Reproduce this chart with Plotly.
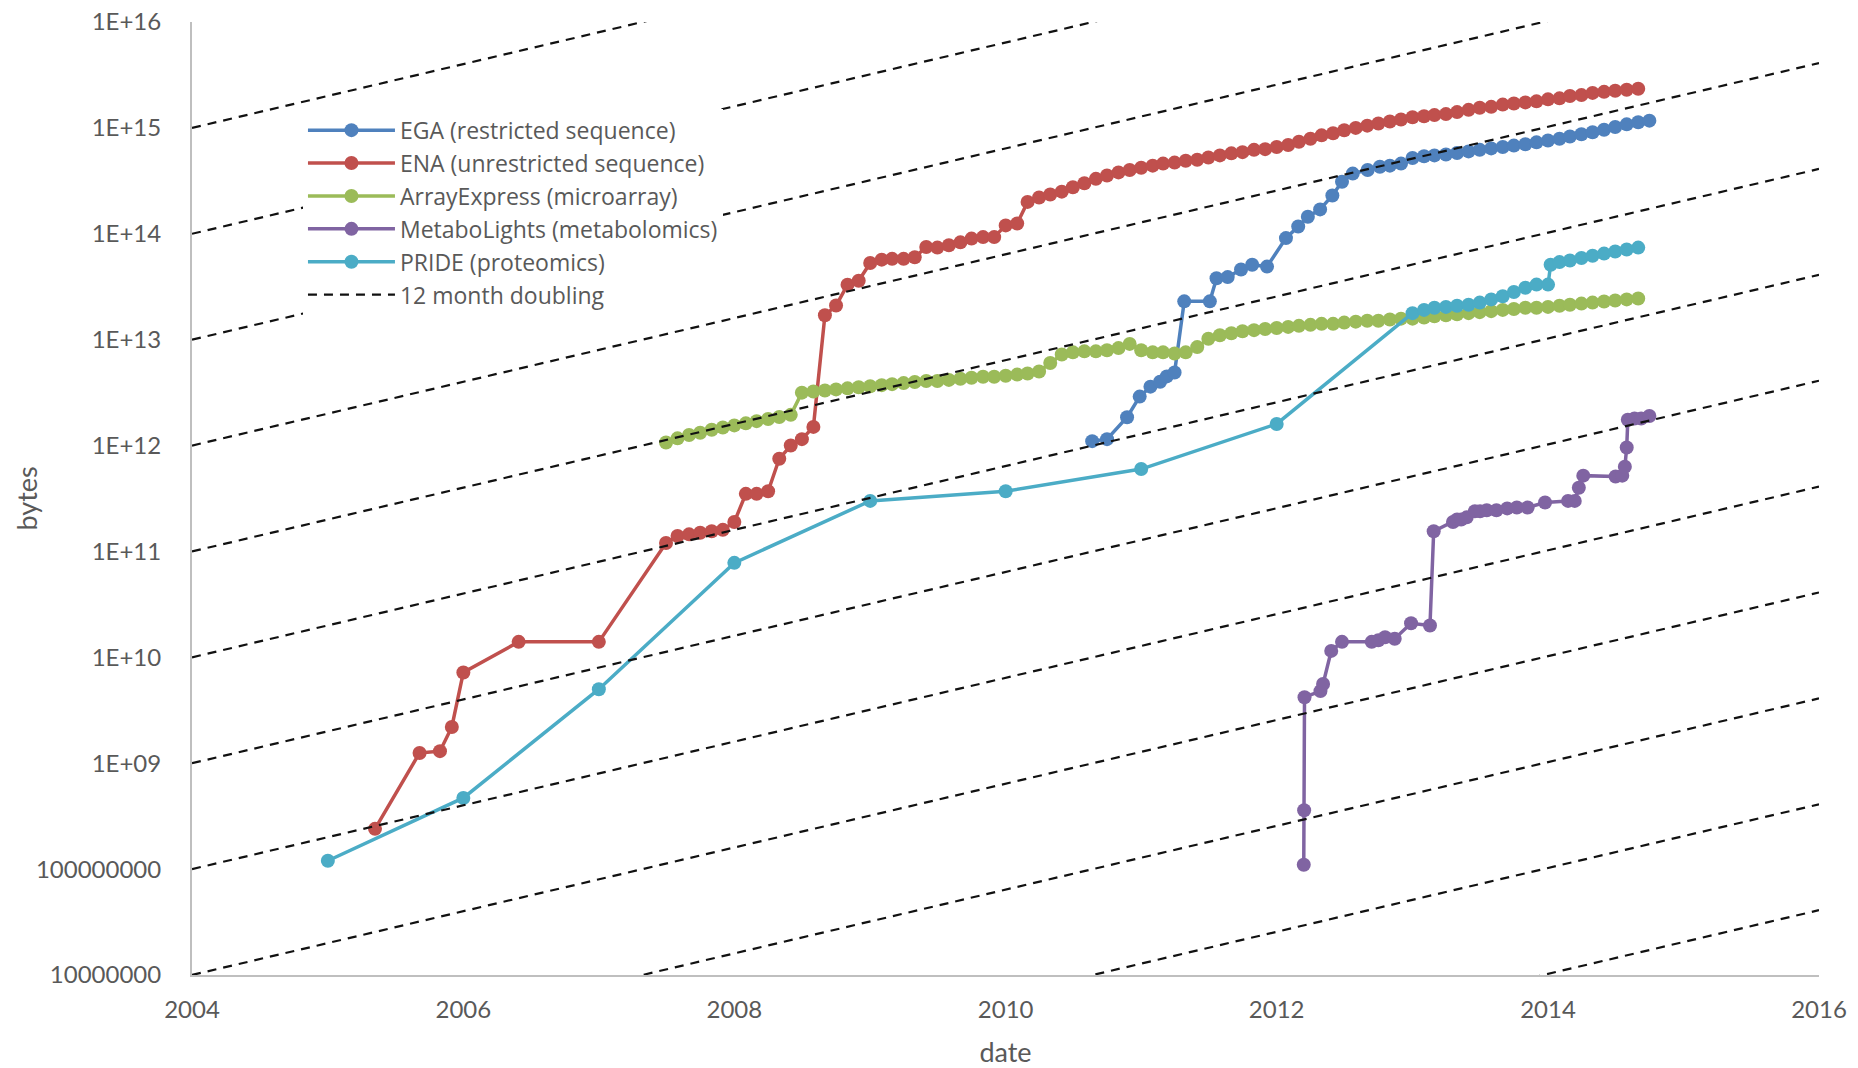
import pandas as pd
import plotly.graph_objects as go

# ---------------- data (bytes) ----------------
ega_dates_irregular = ["2010-08-22", "2010-10-01", "2010-11-24", "2010-12-28", "2011-01-26", "2011-02-21",
                       "2011-03-11", "2011-04-01", "2011-04-27", "2011-07-05", "2011-07-23", "2011-08-22",
                       "2011-09-27", "2011-10-27", "2011-12-06", "2012-01-26", "2012-02-28", "2012-03-25",
                       "2012-04-27", "2012-05-30", "2012-06-25", "2012-07-24", "2012-09-02", "2012-10-05"]
ega_values_irregular = [1.1e12, 1.15e12, 1.85e12, 2.9e12, 3.6e12, 4.0e12, 4.5e12, 4.9e12, 2.3e13, 2.3e13,
                        3.8e13, 3.9e13, 4.6e13, 5.1e13, 4.9e13, 9.1e13, 1.17e14, 1.45e14, 1.7e14, 2.3e14,
                        3.1e14, 3.7e14, 4.0e14, 4.3e14]
ega_monthly_start = "2012-11-01"
ega_values_monthly = [4.4e14, 4.6e14,
                      5.2e14, 5.4e14, 5.5e14, 5.6e14, 5.8e14, 6.0e14, 6.2e14, 6.4e14, 6.6e14, 6.8e14, 7.0e14, 7.3e14,
                      7.6e14, 7.9e14, 8.3e14, 8.7e14, 9.1e14, 9.6e14, 1.02e15, 1.08e15, 1.13e15, 1.17e15]

ena_dates_early = ["2005-05-08", "2005-09-05", "2005-10-30", "2005-12-01", "2006-01-01", "2006-05-30", "2007-01-01"]
ena_values_early = [2.4e8, 1.25e9, 1.3e9, 2.2e9, 7.2e9, 1.4e10, 1.4e10]
ena_monthly_start = "2007-07-01"
ena_values_monthly = [1.2e11, 1.4e11, 1.45e11, 1.5e11, 1.55e11, 1.6e11,
                      1.9e11, 3.5e11, 3.5e11, 3.7e11, 7.5e11, 1.0e12, 1.15e12, 1.5e12, 1.7e13, 2.1e13, 3.3e13, 3.6e13,
                      5.3e13, 5.7e13, 5.8e13, 5.8e13, 6.0e13, 7.5e13, 7.4e13, 7.8e13, 8.3e13, 9.0e13, 9.3e13, 9.3e13,
                      1.2e14, 1.25e14, 2.0e14, 2.2e14, 2.35e14, 2.5e14, 2.75e14, 3.0e14, 3.3e14, 3.55e14, 3.8e14, 4.0e14,
                      4.2e14, 4.4e14, 4.6e14, 4.7e14, 4.9e14, 5.0e14, 5.25e14, 5.5e14, 5.75e14, 5.9e14, 6.2e14, 6.3e14,
                      6.6e14, 6.9e14, 7.4e14, 7.9e14, 8.5e14, 8.9e14, 9.5e14, 1.0e15, 1.05e15, 1.1e15, 1.15e15, 1.2e15,
                      1.26e15, 1.29e15, 1.32e15, 1.35e15, 1.41e15, 1.48e15, 1.55e15, 1.58e15, 1.66e15, 1.70e15, 1.74e15, 1.78e15,
                      1.86e15, 1.9e15, 2.0e15, 2.04e15, 2.14e15, 2.19e15, 2.24e15, 2.29e15, 2.34e15]

ae_monthly_start = "2007-07-01"
ae_values_monthly = [1.07e12, 1.17e12, 1.26e12, 1.32e12, 1.41e12, 1.48e12,
                     1.55e12, 1.62e12, 1.70e12, 1.78e12, 1.86e12, 1.95e12, 3.16e12, 3.24e12, 3.31e12, 3.39e12, 3.47e12, 3.55e12,
                     3.63e12, 3.72e12, 3.80e12, 3.89e12, 3.98e12, 4.07e12, 4.07e12, 4.17e12, 4.27e12, 4.37e12, 4.47e12, 4.47e12,
                     4.57e12, 4.68e12, 4.79e12, 5.01e12, 6.03e12, 7.24e12, 7.59e12, 7.76e12, 7.76e12, 7.94e12, 8.32e12, 9.12e12,
                     7.94e12, 7.59e12, 7.59e12, 7.41e12, 7.59e12, 8.51e12, 1.02e13, 1.10e13, 1.15e13, 1.20e13, 1.23e13, 1.26e13,
                     1.29e13, 1.32e13, 1.35e13, 1.38e13, 1.41e13, 1.41e13, 1.45e13, 1.48e13, 1.51e13, 1.51e13, 1.55e13, 1.58e13,
                     1.58e13, 1.62e13, 1.66e13, 1.70e13, 1.74e13, 1.78e13, 1.82e13, 1.86e13, 1.91e13, 1.95e13, 2.0e13, 2.0e13,
                     2.04e13, 2.09e13, 2.14e13, 2.19e13, 2.24e13, 2.29e13, 2.34e13, 2.40e13, 2.45e13]

ml_dates = ["2012-03-14", "2012-03-15", "2012-03-16", "2012-04-28", "2012-05-05", "2012-05-27", "2012-06-25",
            "2012-09-13", "2012-10-01", "2012-10-19", "2012-11-14", "2012-12-28", "2013-02-17", "2013-02-27",
            "2013-04-20", "2013-05-01", "2013-05-12", "2013-05-27", "2013-06-18", "2013-07-02", "2013-07-20",
            "2013-08-15", "2013-09-13", "2013-10-09", "2013-11-07", "2013-12-24", "2014-02-24", "2014-03-14",
            "2014-03-25", "2014-04-06", "2014-07-02", "2014-07-20", "2014-07-27", "2014-08-01", "2014-08-04",
            "2014-08-22", "2014-09-09", "2014-10-01"]
ml_values = [1.1e8, 3.6e8, 4.2e9, 4.8e9, 5.6e9, 1.15e10, 1.4e10, 1.4e10, 1.45e10, 1.55e10, 1.5e10, 2.1e10,
             2.0e10, 1.55e11, 1.9e11, 2.0e11, 2.0e11, 2.1e11, 2.4e11, 2.4e11, 2.45e11, 2.45e11, 2.55e11, 2.6e11,
             2.6e11, 2.9e11, 3.0e11, 3.0e11, 4.0e11, 5.2e11, 5.1e11, 5.2e11, 6.3e11, 9.6e11, 1.75e12, 1.8e12,
             1.8e12, 1.9e12]

pride_dates_annual = ["2005-01-01", "2006-01-01", "2007-01-01", "2008-01-01", "2009-01-01", "2010-01-01",
                      "2011-01-01", "2012-01-01"]
pride_values_annual = [1.2e8, 4.7e8, 5.0e9, 7.8e10, 3.0e11, 3.7e11, 6.0e11, 1.6e12]
pride_monthly_start = "2013-01-01"
pride_values_monthly = [1.78e13, 1.91e13, 2.0e13, 2.04e13, 2.09e13, 2.14e13, 2.24e13, 2.40e13, 2.57e13,
                        2.82e13, 3.09e13, 3.31e13, 3.31e13]
pride_dates_late = ["2014-01-08", "2014-02-01", "2014-03-01", "2014-04-01", "2014-05-01", "2014-06-01",
                    "2014-07-01", "2014-08-01", "2014-09-01"]
pride_values_late = [5.1e13, 5.4e13, 5.6e13, 5.9e13, 6.2e13, 6.5e13, 6.8e13, 7.1e13, 7.4e13]

# 12 month doubling reference lines: start values at 2004 (10^k bytes)
doubling_start_exponents = [4, 5, 6, 7, 8, 9, 10, 11, 12, 13, 14, 15]
doubling_period_years = 1
doubling_from, doubling_to = "2004-01-01", "2016-01-01"

y_tick_values = [1e7, 1e8, 1e9, 1e10, 1e11, 1e12, 1e13, 1e14, 1e15, 1e16]
y_tick_labels = ["10000000", "100000000", "1E+09", "1E+10", "1E+11", "1E+12", "1E+13", "1E+14", "1E+15", "1E+16"]
x_tick_years = [2004, 2006, 2008, 2010, 2012, 2014, 2016]


def monthly(start, n):
    return [d.strftime("%Y-%m-%d") for d in pd.date_range(start, periods=n, freq="MS")]


series = [
    ("EGA (restricted sequence)", "#4F81BD",
     ega_dates_irregular + monthly(ega_monthly_start, len(ega_values_monthly)),
     ega_values_irregular + ega_values_monthly),
    ("ENA (unrestricted sequence)", "#C0504D",
     ena_dates_early + monthly(ena_monthly_start, len(ena_values_monthly)),
     ena_values_early + ena_values_monthly),
    ("ArrayExpress (microarray)", "#9BBB59",
     monthly(ae_monthly_start, len(ae_values_monthly)), ae_values_monthly),
    ("MetaboLights (metabolomics)", "#8064A2", ml_dates, ml_values),
    ("PRIDE (proteomics)", "#4BACC6",
     pride_dates_annual + monthly(pride_monthly_start, len(pride_values_monthly)) + pride_dates_late,
     pride_values_annual + pride_values_monthly + pride_values_late),
]

FONT = "Lato, 'Open Sans', sans-serif"
LEGEND_FONT = "'Open Sans', Lato, sans-serif"
TXT = "#595959"

fig = go.Figure()
for name, color, xs, ys in series:
    fig.add_trace(go.Scatter(x=xs, y=ys, name=name, mode="lines+markers",
                             line=dict(color=color, width=3.5),
                             marker=dict(color=color, size=14, symbol="circle")))

years_span = 12
factor = 2 ** (years_span / doubling_period_years)
dx, dy = [], []
for k in doubling_start_exponents:
    dx += [doubling_from, doubling_to, None]
    dy += [10.0 ** k, 10.0 ** k * factor, None]
fig.add_trace(go.Scatter(x=dx, y=dy, name="12 month doubling", mode="lines",
                         line=dict(color="#111111", width=2.2, dash="9px,7px"),
                         connectgaps=False))

fig.update_layout(
    width=1858, height=1068,
    margin=dict(l=192, r=39, t=22, b=93, autoexpand=False),
    paper_bgcolor="white", plot_bgcolor="white",
    font=dict(family=FONT, size=24, color=TXT),
    showlegend=True,
    legend=dict(x=0.0682, y=0.909, xanchor="left", yanchor="top",
                bgcolor="white", borderwidth=0, font=dict(family=LEGEND_FONT, size=23, color=TXT),
                itemwidth=87, tracegroupgap=0),
    annotations=[dict(text="bytes", xref="paper", yref="paper", x=-0.102, y=0.5, xanchor="center",
                      yanchor="middle", textangle=-90, showarrow=False,
                      font=dict(family=FONT, size=27, color=TXT))],
)
fig.update_xaxes(
    type="date", range=["2004-01-01", "2016-01-01"], automargin=False,
    tickvals=[f"{y}-01-01" for y in x_tick_years], ticktext=[str(y) for y in x_tick_years],
    showgrid=False, zeroline=False, showline=True, linecolor="#BFBFBF", linewidth=2,
    ticks="", ticklabelstandoff=12,
    title=dict(text="date", standoff=22, font=dict(family=FONT, size=27, color=TXT)),
)
fig.update_yaxes(
    type="log", range=[7, 16], automargin=False,
    tickvals=y_tick_values, ticktext=y_tick_labels,
    showgrid=False, zeroline=False, showline=True, linecolor="#BFBFBF", linewidth=2,
    ticks="", ticklabelstandoff=24,
)

fig.write_html("out.html")
